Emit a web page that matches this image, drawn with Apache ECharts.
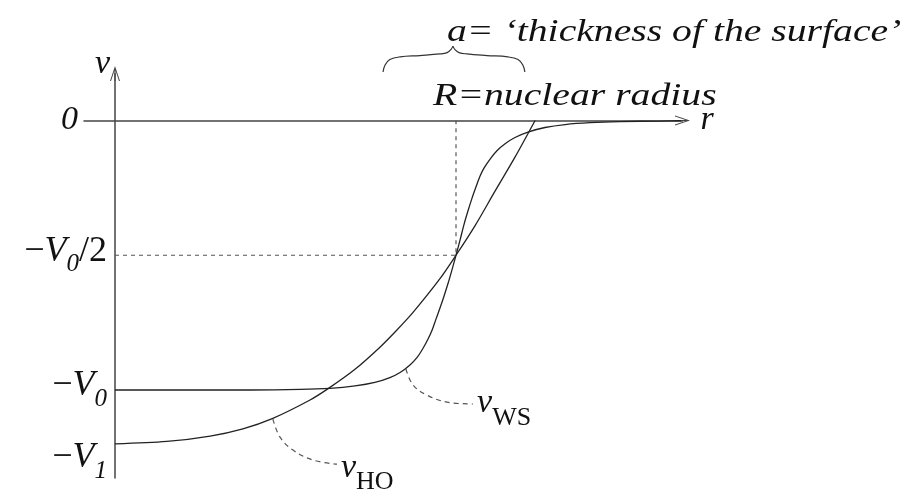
<!DOCTYPE html>
<html><head><meta charset="utf-8">
<script src="https://cdn.jsdelivr.net/npm/echarts@6/dist/echarts.min.js"></script>
<style>html,body{margin:0;padding:0;background:#fff}#c{width:920px;height:491px}</style>
</head><body><div id="c"></div>
<script>
// r in units of R (nuclear radius), v in units of V0
const wsR = [0, 0.249, 0.396, 0.543, 0.630, 0.704, 0.762, 0.806, 0.836, 0.865, 0.886, 0.903, 0.918, 0.930, 0.941, 0.953, 0.965, 0.977, 0.988, 1.000,
             1.012, 1.023, 1.035, 1.047, 1.059, 1.070, 1.082, 1.100, 1.120, 1.144, 1.173, 1.211, 1.261, 1.320, 1.393, 1.481, 1.598, 1.660];
const wsV = [-1.000, -1.000, -1.000, -0.998, -0.994, -0.985, -0.972, -0.954, -0.935, -0.907, -0.879, -0.846, -0.811, -0.777, -0.738, -0.696, -0.651, -0.603, -0.555, -0.500,
             -0.443, -0.388, -0.336, -0.288, -0.245, -0.208, -0.177, -0.143, -0.112, -0.086, -0.063, -0.043, -0.026, -0.015, -0.008, -0.004, -0.002, -0.001];
const hoR = [0, 0.152, 0.279, 0.375, 0.463, 0.572, 0.625, 0.701, 0.777, 0.824, 0.874, 0.953, 1.000, 1.056, 1.114, 1.173, 1.232];
const hoV = [-1.200, -1.191, -1.171, -1.144, -1.105, -1.037, -0.995, -0.926, -0.841, -0.781, -0.712, -0.587, -0.500, -0.390, -0.263, -0.136, 0];
const guideR = [0, 1, 1];
const guideV = [-0.5, -0.5, 0];
const wsLeaderR = [0.853, 0.874, 0.915, 0.974, 1.050];
const wsLeaderV = [-0.922, -0.981, -1.019, -1.045, -1.052];
const hoLeaderR = [0.463, 0.484, 0.522, 0.581, 0.651];
const hoLeaderV = [-1.108, -1.175, -1.223, -1.260, -1.275];
const braceLeftR = [0.786, 0.792, 0.806, 0.836, 0.894, 0.953, 0.974, 0.985, 0.991];
const braceLeftV = [0.180, 0.206, 0.226, 0.236, 0.241, 0.247, 0.252, 0.263, 0.276];
const braceRightR = [0.991, 0.997, 1.009, 1.032, 1.091, 1.152, 1.182, 1.196, 1.202];
const braceRightV = [0.276, 0.263, 0.252, 0.247, 0.241, 0.236, 0.226, 0.206, 0.180];
const tickValues = [0, -0.5, -1, -1.2];
const tickLabels = ['{z|0}', '{m|−}{v|V}{s|0}{m|/2}', '{m|−}{v|V}{s|0}', '{m1|−}{v1|V}{s|1}'];
const titleText = 'a= ‘thickness of the surface’';
const radiusText = 'R=nuclear radius';

const zip = (a, b) => a.map((x, i) => [x, b[i]]);
const SERIF = '"Liberation Serif", "Times New Roman", serif';
const INK = '#111';
const arrowPath = 'path://M5 0 L10 15 L9 15 L5.5 4.5 L5.5 15 L4.5 15 L4.5 4.5 L1 15 L0 15 Z';

const chart = echarts.init(document.getElementById('c'), null, {renderer: 'canvas'});
const main = {fontFamily: SERIF, fontStyle: 'italic', fontSize: 36, color: INK, verticalAlign: 'bottom', padding: [0, 0, 8, 0]};
const subLabelRich = {
  v: {fontFamily: SERIF, fontStyle: 'italic', fontSize: 34, color: INK, verticalAlign: 'bottom', padding: [0, 0, 11, 0]},
  s: {fontFamily: SERIF, fontSize: 26, color: INK, verticalAlign: 'bottom'}
};
const option = {
  backgroundColor: '#fff',
  animation: false,
  grid: {left: 84, top: 73.5, width: 598.5, height: 404.5, containLabel: false, outerBoundsMode: 'none'},
  xAxis: {
    type: 'value', min: -0.09091, max: 1.66422,
    name: 'r', nameLocation: 'end', nameGap: 18,
    nameTextStyle: {fontFamily: SERIF, fontStyle: 'italic', fontSize: 34, color: INK, verticalAlign: 'middle', padding: [0, 0, 6, 0]},
    axisLine: {onZero: true, symbol: ['none', arrowPath], symbolSize: [10, 15], lineStyle: {color: '#444', width: 1.5}},
    axisTick: {show: false}, axisLabel: {show: false}, splitLine: {show: false}
  },
  yAxis: {
    type: 'value', min: -1.32653, max: 0.17440,
    name: 'v', nameLocation: 'end', nameGap: 9,
    nameTextStyle: {fontFamily: SERIF, fontStyle: 'italic', fontSize: 34, color: INK, align: 'right', verticalAlign: 'middle', padding: [0, 5, 0, 0]},
    axisLine: {onZero: true, symbol: ['none', arrowPath], symbolSize: [10, 15], lineStyle: {color: '#444', width: 1.5}},
    axisTick: {show: false}, splitLine: {show: false},
    axisLabel: {
      show: true, margin: -23, customValues: tickValues,
      formatter: function (v) {
        for (let i = 0; i < tickValues.length; i++) if (Math.abs(v - tickValues[i]) < 1e-6) return tickLabels[i];
        return '';
      },
      rich: {
        z: {fontFamily: SERIF, fontStyle: 'italic', fontSize: 34, color: INK, padding: [0, 29, 0, 0]},
        m: Object.assign({}, main, {fontStyle: 'normal'}),
        v: Object.assign({}, main),
        s: {fontFamily: SERIF, fontStyle: 'italic', fontSize: 25, color: INK, verticalAlign: 'bottom'},
        m1: Object.assign({}, main, {fontStyle: 'normal', padding: [36, 0, 8, 0]}),
        v1: Object.assign({}, main, {padding: [36, 0, 8, 0]})
      }
    }
  },
  graphic: [
    {type: 'text', x: 447, y: 33, scaleX: 1.28, style: {text: titleText, fontFamily: SERIF, fontStyle: 'italic', fontSize: 31, fill: INK, textAlign: 'left', textVerticalAlign: 'middle'}},
    {type: 'text', x: 433, y: 97, scaleX: 1.28, style: {text: radiusText, fontFamily: SERIF, fontStyle: 'italic', fontSize: 31, fill: INK, textAlign: 'left', textVerticalAlign: 'middle'}}
  ],
  series: [
    {name: 'WS', type: 'line', data: zip(wsR, wsV), smooth: 0.3, symbol: 'none', clip: false, lineStyle: {color: '#222', width: 1.3}, z: 3},
    {name: 'HO', type: 'line', data: zip(hoR, hoV), smooth: 0.3, symbol: 'none', clip: false, lineStyle: {color: '#222', width: 1.3}, z: 3},
    {name: 'guide', type: 'line', data: zip(guideR, guideV), symbol: 'none', clip: false, lineStyle: {color: '#555', width: 1.2, type: [4, 4]}, z: 2},
    {name: 'wsLeader', type: 'line', data: zip(wsLeaderR, wsLeaderV), smooth: 0.4, symbol: 'none', clip: false,
      lineStyle: {color: '#555', width: 1.2, type: [5, 4]},
      endLabel: {show: true, distance: 4, offset: [0, 5], formatter: '{v|v}{s|WS}', rich: subLabelRich}},
    {name: 'hoLeader', type: 'line', data: zip(hoLeaderR, hoLeaderV), smooth: 0.4, symbol: 'none', clip: false,
      lineStyle: {color: '#555', width: 1.2, type: [5, 4]},
      endLabel: {show: true, distance: 4, offset: [0, 9], formatter: '{v|v}{s|HO}', rich: subLabelRich}},
    {name: 'braceL', type: 'line', data: zip(braceLeftR, braceLeftV), smooth: 0.4, symbol: 'none', clip: false, lineStyle: {color: '#333', width: 1.2}},
    {name: 'braceR', type: 'line', data: zip(braceRightR, braceRightV), smooth: 0.4, symbol: 'none', clip: false, lineStyle: {color: '#333', width: 1.2}}
  ]
};
chart.setOption(option);
</script></body></html>
